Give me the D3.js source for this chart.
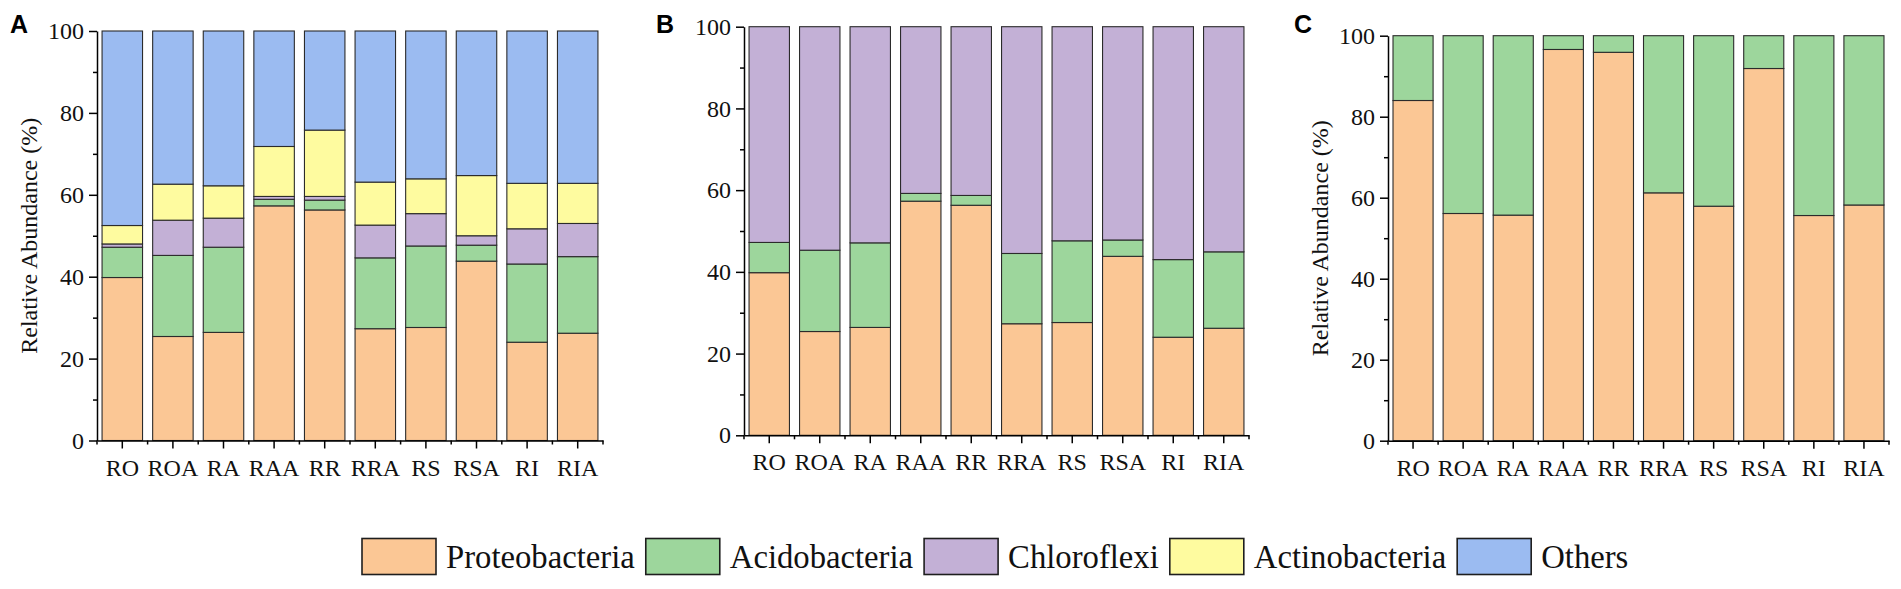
<!DOCTYPE html>
<html lang="en">
<head>
<meta charset="UTF-8"/>
<title>Relative abundance of dominant phyla</title>
<script src="https://d3js.org/d3.v7.min.js"></script>
<style>
	body { margin: 0; background: #fff; }
</style>
</head>
<body>
<script>

	var w = 1901;
	var h = 589;
	var serif = "'Liberation Serif', 'Times New Roman', serif";

	var categories = ["RO", "ROA", "RA", "RAA", "RR", "RRA", "RS", "RSA", "RI", "RIA"];
	var phyla = ["Proteobacteria", "Acidobacteria", "Chloroflexi", "Actinobacteria", "Others"];
	var yTicks = [0, 20, 40, 60, 80, 100];
	var yMinor = [10, 30, 50, 70, 90];

	// panel A
	var proteoA = [39.8, 25.4, 26.4, 57.3, 56.3, 27.3, 27.6, 43.8, 24.0, 26.2];
	var acidoA = [7.4, 19.8, 20.8, 1.6, 2.4, 17.3, 19.9, 3.9, 19.1, 18.7];
	var chloroA = [0.8, 8.6, 7.1, 0.7, 0.9, 8.0, 7.9, 2.3, 8.6, 8.1];
	var actinoA = [4.5, 8.8, 7.9, 12.2, 16.2, 10.5, 8.5, 14.7, 11.1, 9.8];
	var othersA = [47.5, 37.4, 37.8, 28.2, 24.2, 36.9, 36.1, 35.3, 37.2, 37.2];

	// panel B
	var proteoB = [39.8, 25.4, 26.4, 57.3, 56.3, 27.3, 27.6, 43.8, 24.0, 26.2];
	var acidoB = [7.4, 19.9, 20.7, 1.9, 2.4, 17.2, 20.0, 4.0, 19.0, 18.7];
	var chloroB = [52.8, 54.7, 52.9, 40.8, 41.3, 55.5, 52.4, 52.2, 57.0, 55.1];

	// panel C
	var proteoC = [84.0, 56.1, 55.7, 96.6, 95.9, 61.2, 57.9, 91.9, 55.6, 58.2];
	var acidoC = [16.0, 43.9, 44.3, 3.4, 4.1, 38.8, 42.1, 8.1, 44.4, 41.8];

	var colour = d3.scaleOrdinal()
		.domain(phyla)
		.range(["#fbc795", "#9dd69c", "#c3b0d6", "#fefb9f", "#9bbbf1"]);

	var svg = d3.select("body")
		.append("svg")
		.attr("width", w)
		.attr("height", h);

	function makeRows(series) {
		return categories.map(function(c, i) {
			var row = { cat: c };
			series.forEach(function(s) { row[s.key] = s.values[i]; });
			return row;
		});
	}

	function drawPanel(opt) {
		var keys = opt.series.map(function(s) { return s.key; });
		var rows = makeRows(opt.series);

		var xScale = d3.scaleBand()
			.domain(categories)
			.range([opt.x0, opt.x1])
			.paddingInner(0.2)
			.paddingOuter(0.1);

		var yScale = d3.scaleLinear()
			.domain([0, 100])
			.range([opt.y0, opt.y1]);

		var stacked = d3.stack().keys(keys)(rows);

		var g = svg.append("g");

		g.selectAll("g.layer")
			.data(stacked)
			.enter()
			.append("g")
			.attr("class", "layer")
			.attr("fill", function(d) { return colour(d.key); })
			.selectAll("rect")
			.data(function(d) { return d; })
			.enter()
			.append("rect")
			.attr("x", function(d) { return xScale(d.data.cat); })
			.attr("y", function(d) { return yScale(d[1]); })
			.attr("width", xScale.bandwidth())
			.attr("height", function(d) { return yScale(d[0]) - yScale(d[1]); })
			.attr("stroke", "#2b2b2b")
			.attr("stroke-width", 1.1);

		//y axis
		var yAxis = d3.axisLeft(yScale)
			.tickValues(yTicks)
			.tickSize(8)
			.tickSizeOuter(0)
			.tickPadding(5);
		var ya = g.append("g")
			.attr("transform", "translate(" + opt.x0 + ",0)")
			.attr("font-family", serif)
			.call(yAxis);
		ya.attr("font-family", serif);
		ya.selectAll("text")
			.style("font-family", serif)
			.style("font-size", "24px")
			.attr("fill", "#111");

		var yAxisMinor = d3.axisLeft(yScale)
			.tickValues(yMinor)
			.tickSize(4)
			.tickSizeOuter(0)
			.tickFormat("");
		g.append("g")
			.attr("transform", "translate(" + opt.x0 + ",0)")
			.call(yAxisMinor)
			.select(".domain").remove();

		//x axis
		var xAxis = d3.axisBottom(xScale)
			.tickSize(8)
			.tickSizeOuter(0)
			.tickPadding(10);
		var xa = g.append("g")
			.attr("transform", "translate(0," + opt.y0 + ")")
			.call(xAxis);
		xa.attr("font-family", serif);
		xa.selectAll("text")
			.style("font-family", serif)
			.style("font-size", "24px")
			.attr("fill", "#111");

		var step = xScale.step();
		var bounds = categories.map(function(c) {
			return xScale(c) - step * xScale.paddingInner() / 2;
		});
		bounds.push(opt.x1);
		g.append("g")
			.selectAll("line")
			.data(bounds)
			.enter()
			.append("line")
			.attr("x1", function(d) { return d; })
			.attr("x2", function(d) { return d; })
			.attr("y1", opt.y0)
			.attr("y2", opt.y0 + 4)
			.attr("stroke", "#000")
			.attr("stroke-width", 1.5);

		g.selectAll(".domain, .tick line")
			.attr("stroke", "#000")
			.attr("stroke-width", 1.5);

		//y title
		if (opt.title) {
			g.append("text")
				.attr("transform", "translate(" + opt.titleX + "," + ((opt.y0 + opt.y1) / 2) + ") rotate(-90)")
				.attr("text-anchor", "middle")
				.attr("dy", "0.35em")
				.attr("fill", "#111")
				.style("font-family", serif)
				.style("font-size", "24px")
				.text("Relative Abundance (%)");
		}

		//panel letter
		g.append("text")
			.attr("x", opt.letterX)
			.attr("y", 33)
			.attr("fill", "#000")
			.style("font-family", "'Liberation Sans', Arial, sans-serif")
			.style("font-weight", "bold")
			.style("font-size", "25px")
			.text(opt.letter);
	}

	drawPanel({
		letter: "A", letterX: 10, title: true, titleX: 29,
		x0: 97, x1: 603, y0: 440.5, y1: 31,
		series: [
			{ key: "Proteobacteria", values: proteoA },
			{ key: "Acidobacteria", values: acidoA },
			{ key: "Chloroflexi", values: chloroA },
			{ key: "Actinobacteria", values: actinoA },
			{ key: "Others", values: othersA }
		]
	});

	drawPanel({
		letter: "B", letterX: 656, title: false,
		x0: 744, x1: 1249, y0: 435.3, y1: 26.7,
		series: [
			{ key: "Proteobacteria", values: proteoB },
			{ key: "Acidobacteria", values: acidoB },
			{ key: "Chloroflexi", values: chloroB }
		]
	});

	drawPanel({
		letter: "C", letterX: 1294, title: true, titleX: 1320,
		x0: 1388, x1: 1889, y0: 440.7, y1: 35.7,
		series: [
			{ key: "Proteobacteria", values: proteoC },
			{ key: "Acidobacteria", values: acidoC }
		]
	});

	//legend
	var legend = svg.append("g");
	var lx = 362;
	phyla.forEach(function(p) {
		legend.append("rect")
			.attr("x", lx)
			.attr("y", 538.5)
			.attr("width", 74)
			.attr("height", 36)
			.attr("fill", colour(p))
			.attr("stroke", "#1e1e1e")
			.attr("stroke-width", 1.6);
		var t = legend.append("text")
			.attr("x", lx + 84)
			.attr("y", 567.5)
			.attr("fill", "#111")
			.style("font-family", serif)
			.style("font-size", "32.7px")
			.text(p);
		lx = lx + 84 + t.node().getComputedTextLength() + 11;
	});

</script>
</body>
</html>
